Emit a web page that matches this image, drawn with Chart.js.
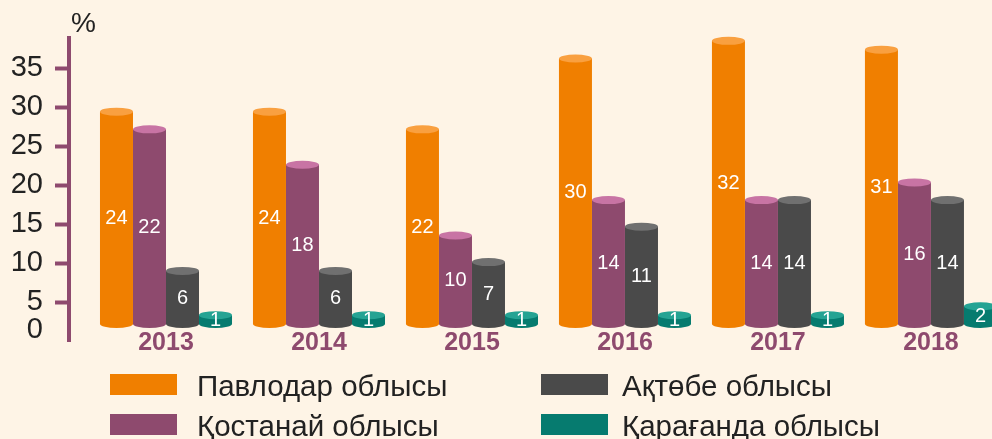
<!DOCTYPE html>
<html>
<head>
<meta charset="utf-8">
<script src="https://cdn.jsdelivr.net/npm/chart.js@4/dist/chart.umd.min.js"></script>
<style>
  html, body { margin: 0; padding: 0; background: #FEF4E6; overflow: hidden; }
  #wrap { position: relative; width: 992px; height: 439px; background: #FEF4E6;
          font-family: "Liberation Sans", Arial, sans-serif; color: #222; }
  #chart-box { position: absolute; left: 0; top: 0; width: 992px; height: 439px; }
  #unit { position: absolute; left: 71px; top: 9px; font-size: 28px; line-height: 28px; }
  .lg-box { position: absolute; width: 67px; height: 21px; }
  .lg-text { position: absolute; font-size: 29.5px; line-height: 21px; white-space: nowrap; }
</style>
</head>
<body>
<div id="wrap">
  <div id="chart-box"><canvas id="chart"></canvas></div>
  <div id="unit">%</div>
  <div id="legend"></div>
</div>
<script>
(function () {
  // Years on the x axis
  const years = ['2013', '2014', '2015', '2016', '2017', '2018'];
  // Region names (legend) and share, %
  const regions = ['Павлодар облысы', 'Қостанай облысы', 'Ақтөбе облысы', 'Қарағанда облысы'];
  const pavlodar  = [24, 24, 22, 30, 32, 31];
  const kostanay  = [22, 18, 10, 14, 14, 16];
  const aktobe    = [6, 6, 7, 11, 14, 14];
  const karaganda = [1, 1, 1, 1, 1, 2];
  // Printed y tick labels
  const yTicks = [0, 5, 10, 15, 20, 25, 30, 35];

  const series = [pavlodar, kostanay, aktobe, karaganda];
  const bodyColors = ['#F07F00', '#8E4A6E', '#4A4A4A', '#067B6F'];
  const topColors  = ['#F9A040', '#C874A4', '#707070', '#25A393'];
  const axisColor = '#8E4A6E';
  const font = '"Liberation Sans", Arial, sans-serif';

  Chart.defaults.font.family = font;

  // cylinder caps + value labels
  const cylinders = {
    id: 'cylinders',
    afterDatasetsDraw(chart) {
      const ctx = chart.ctx;
      ctx.save();
      chart.data.datasets.forEach((ds, di) => {
        const meta = chart.getDatasetMeta(di);
        meta.data.forEach((bar, i) => {
          const p = bar.getProps(['x', 'y', 'base', 'width'], true);
          const rx = p.width / 2, ry = 4;
          ctx.fillStyle = bodyColors[di];
          ctx.beginPath(); ctx.ellipse(p.x, p.base, rx, ry, 0, 0, Math.PI * 2); ctx.fill();
          ctx.fillStyle = topColors[di];
          ctx.beginPath(); ctx.ellipse(p.x, p.y, rx, ry, 0, 0, Math.PI * 2); ctx.fill();
          ctx.fillStyle = '#ffffff';
          ctx.font = '20px ' + font;
          ctx.textAlign = 'center';
          ctx.textBaseline = 'middle';
          ctx.fillText(String(ds.data[i].y), p.x, (p.y + p.base) / 2 + 1);
        });
      });
      ctx.restore();
    }
  };

  new Chart(document.getElementById('chart'), {
    type: 'bar',
    data: {
      datasets: series.map((vals, di) => ({
        label: regions[di],
        data: vals.map((v, i) => ({ x: i, y: v })),
        backgroundColor: bodyColors[di],
        borderWidth: 0,
        yAxisID: 'yb',
        categoryPercentage: 0.863,
        barPercentage: 1
      }))
    },
    options: {
      responsive: true,
      maintainAspectRatio: false,
      animation: false,
      layout: { padding: { top: 38, left: 0, right: 0, bottom: 0 } },
      plugins: { legend: { display: false }, tooltip: { enabled: false } },
      scales: {
        x: {
          type: 'linear',
          offset: false,
          bounds: 'data',
          min: -0.634,
          max: 5.399,
          afterBuildTicks: s => { s.ticks = years.map((_, i) => ({ value: i })); },
          afterFit: s => { s.height = 98; },
          grid: { display: false, offset: false },
          border: { display: false },
          ticks: {
            callback: v => years[v] ?? '',
            color: axisColor,
            font: { size: 25, weight: 'bold' },
            mirror: true,
            padding: -17,
            maxRotation: 0,
            autoSkip: false
          }
        },
        y: {
          position: 'left',
          min: 0,
          max: 38.85,
          afterBuildTicks: s => { s.ticks = yTicks.map(v => ({ value: v })); },
          afterFit: s => { s.width = 69; },
          border: { display: true, color: axisColor, width: 4 },
          grid: {
            drawOnChartArea: false,
            tickLength: 14,
            tickWidth: 4,
            tickColor: c => (c.tick && c.tick.value === 0 ? 'rgba(0,0,0,0)' : axisColor)
          },
          ticks: {
            color: '#222222',
            padding: 12,
            autoSkip: false,
            font: c => ({ size: 29, lineHeight: c.tick && c.tick.value === 0 ? 0.75 : 1.2 }),
            callback: v => (v === 0 ? ['0', ''] : String(v))
          }
        },
        yb: {
          display: false,
          min: -1.92,
          max: 32.32
        }
      }
    },
    plugins: [cylinders]
  });

  // legend: two columns, two rows
  const legend = document.getElementById('legend');
  const colLeft = [110, 541], colText = [197, 622], rowTop = [374, 414];
  regions.forEach((name, i) => {
    const col = Math.floor(i / 2), row = i % 2;
    const box = document.createElement('div');
    box.className = 'lg-box';
    box.style.left = colLeft[col] + 'px';
    box.style.top = rowTop[row] + 'px';
    box.style.background = bodyColors[i];
    const txt = document.createElement('div');
    txt.className = 'lg-text';
    txt.style.left = colText[col] + 'px';
    txt.style.top = (rowTop[row] + 1) + 'px';
    txt.textContent = name;
    legend.appendChild(box);
    legend.appendChild(txt);
  });
})();
</script>
</body>
</html>
